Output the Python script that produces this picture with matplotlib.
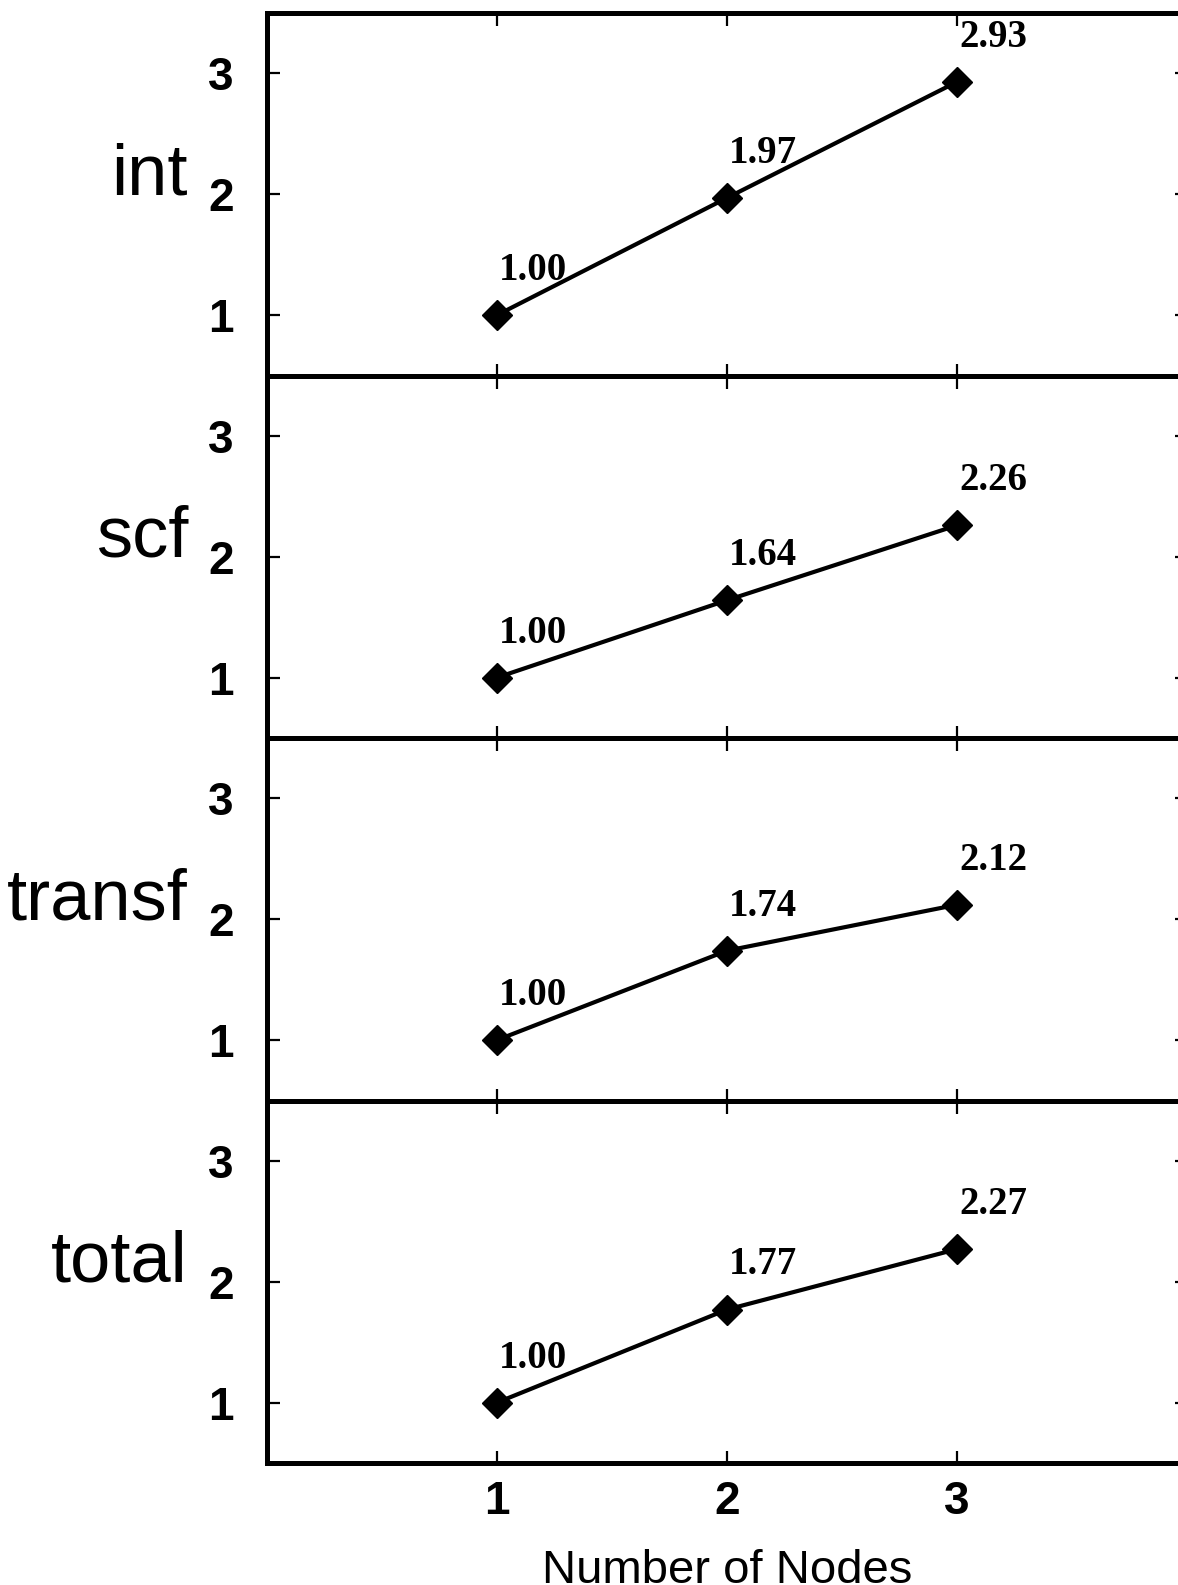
import matplotlib
matplotlib.use("Agg")
import matplotlib.pyplot as plt

# Speedup per phase versus node count
nodes = [1, 2, 3]
phases = ["int", "scf", "transf", "total"]
speedup_int = [1.00, 1.97, 2.93]
speedup_scf = [1.00, 1.64, 2.26]
speedup_transf = [1.00, 1.74, 2.12]
speedup_total = [1.00, 1.77, 2.27]
series = [speedup_int, speedup_scf, speedup_transf, speedup_total]
y_ticks = [1, 2, 3]
x_ticks = [1, 2, 3]

W, H = 1178, 1585
fig = plt.figure(figsize=(W / 100, H / 100), dpi=100)

left_px, top_px = 267, 13
panel_w_px, panel_h_px = 920, 362.5

sans = ["Liberation Sans", "DejaVu Sans"]
serif = ["Liberation Serif", "DejaVu Serif"]

for i, (name, vals) in enumerate(zip(phases, series)):
    top = top_px + i * panel_h_px
    ax = fig.add_axes([left_px / W, 1 - (top + panel_h_px) / H,
                       panel_w_px / W, panel_h_px / H])
    ax.set_xlim(0, 4)
    ax.set_ylim(0.5, 3.5)
    ax.plot(nodes, vals, color="black", lw=3.0, marker="D", ms=15,
            mfc="black", mec="black", clip_on=False, zorder=3)
    for x, v in zip(nodes, vals):
        ax.text(x + 0.01, v + 0.29, f"{v:.2f}", ha="left", va="baseline",
                fontsize=28, fontweight="bold", family=serif)
    for s in ax.spines.values():
        s.set_linewidth(3.6)
    ax.set_yticks(y_ticks)
    ax.set_yticklabels([str(t) for t in y_ticks], fontsize=33,
                       fontweight="bold", family=sans)
    ax.set_xticks(x_ticks)
    ax.tick_params(axis="both", direction="in", length=9, width=1.6,
                   top=True, right=True)
    ax.tick_params(axis="y", pad=24)
    if i < len(phases) - 1:
        ax.set_xticklabels([])
    else:
        ax.set_xticklabels([str(t) for t in x_ticks], fontsize=33,
                           fontweight="bold", family=sans)
        ax.tick_params(axis="x", pad=12)
        ax.set_xlabel("Number of Nodes", fontsize=34, family=sans)
        ax.xaxis.set_label_coords(0.5, -(1583 - (top + panel_h_px)) / panel_h_px)
        ax.xaxis.label.set_va("baseline")
    ax.text(-0.343, 2.0, name, ha="right", va="baseline", fontsize=52,
            family=sans)

fig.savefig("out.png", dpi=100)
